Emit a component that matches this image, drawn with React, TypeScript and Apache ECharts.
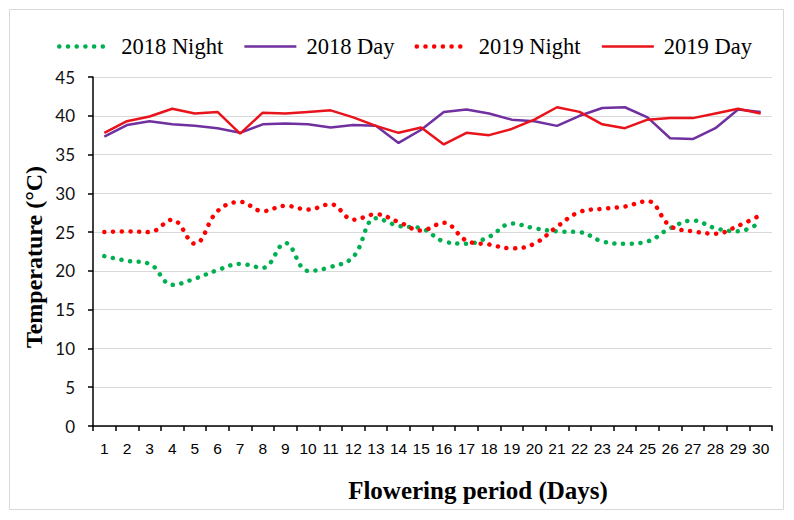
import React, { useEffect, useRef } from "react";
import * as echarts from "echarts";

const days = Array.from({ length: 30 }, (_, i) => String(i + 1));
const yTicks = { min: 0, max: 45, interval: 5 };

const night2018 = [21.9, 21.3, 20.9, 18.2, 19.0, 20.1, 20.9, 20.4, 23.6, 20.0, 20.5, 21.8, 26.8, 25.8, 25.5, 23.8, 23.5, 24.4, 26.1, 25.5, 25.1, 25.0, 23.8, 23.5, 23.8, 25.5, 26.5, 25.5, 25.1, 26.3];
const day2018 = [37.3, 38.8, 39.3, 38.9, 38.7, 38.4, 37.8, 38.9, 39.0, 38.9, 38.5, 38.8, 38.7, 36.5, 38.2, 40.5, 40.8, 40.3, 39.5, 39.3, 38.7, 40.0, 41.0, 41.1, 39.8, 37.1, 37.0, 38.4, 40.8, 40.5];
const night2019 = [25.0, 25.1, 25.0, 26.6, 23.5, 27.7, 28.9, 27.7, 28.4, 27.9, 28.6, 26.6, 27.3, 26.3, 25.2, 26.2, 23.9, 23.4, 22.9, 23.5, 25.7, 27.6, 28.0, 28.3, 29.0, 25.8, 25.1, 24.8, 25.8, 27.2];
const day2019 = [37.8, 39.3, 39.9, 40.9, 40.3, 40.5, 37.7, 40.4, 40.3, 40.5, 40.7, 39.8, 38.7, 37.8, 38.5, 36.3, 37.8, 37.5, 38.3, 39.5, 41.1, 40.5, 38.9, 38.4, 39.5, 39.7, 39.7, 40.3, 40.9, 40.3];

const seriesNames = ["2018 Night", "2018 Day", "2019 Night", "2019 Day"];
const colors = ["#00B050", "#7030A0", "#FF0000", "#E8131B"];

export default function App() {
  const ref = useRef<HTMLDivElement>(null);
  useEffect(() => {
    document.body.style.margin = "0";
    const chart = echarts.init(ref.current!, null, { renderer: "svg" });
    const dotted = (c: string) => ({ color: c, width: 4.5, type: [0.1, 8.6] as any, cap: "round" as const });
    const solid = (c: string) => ({ color: c, width: 2.5 });
    const hidden = { opacity: 0 };
    chart.setOption({
      animation: false,
      backgroundColor: "#fff",
      color: colors,
      legend: {
        left: 57,
        top: 35,
        padding: 0,
        itemWidth: 52,
        itemHeight: 14,
        itemGap: 20,
        itemStyle: hidden,
        textStyle: { fontFamily: "Liberation Serif", fontSize: 22.5, color: "#000", padding: [0, 0, 0, 5] },
        data: [
          { name: seriesNames[0], itemStyle: hidden, lineStyle: { width: 4.5, type: [0.1, 8.6], cap: "round", color: colors[0] } },
          { name: seriesNames[1], itemStyle: hidden, lineStyle: { width: 2.5, color: colors[1] } },
          { name: seriesNames[2], itemStyle: hidden, lineStyle: { width: 4.5, type: [0.1, 8.6], cap: "round", color: colors[2] } },
          { name: seriesNames[3], itemStyle: hidden, lineStyle: { width: 2.5, color: colors[3] } },
        ],
      },
      grid: { left: 93, right: 22, top: 77, bottom: 94, containLabel: false },
      xAxis: {
        type: "category",
        data: days,
        boundaryGap: true,
        axisLine: { lineStyle: { color: "#000", width: 1.5 } },
        axisTick: { show: true, length: 5, lineStyle: { color: "#000", width: 1.5 }, interval: 0 },
        axisLabel: { interval: 0, fontFamily: "Liberation Sans", fontSize: 15.5, color: "#000", margin: 14 },
      },
      yAxis: {
        type: "value",
        min: yTicks.min,
        max: yTicks.max,
        interval: yTicks.interval,
        axisLine: { show: true, lineStyle: { color: "#000", width: 1.5 } },
        axisTick: { show: true, length: 5, lineStyle: { color: "#000", width: 1.5 } },
        axisLabel: { fontFamily: "Lato", fontSize: 17, color: "#111", margin: 18 },
        splitLine: { lineStyle: { color: "#D9D9D9", width: 1.2 } },
      },
      graphic: [
        { type: "rect", shape: { x: 9.5, y: 9.5, width: 774, height: 500 }, style: { fill: "none", stroke: "#D9D9D9", lineWidth: 1 }, silent: true, z: -1 },
        { type: "text", x: 34, y: 257, rotation: Math.PI / 2, style: { text: "Temperature (°C)", fontFamily: "Liberation Serif", fontWeight: "bold", fontSize: 24, fill: "#000", align: "center", verticalAlign: "middle" } },
        { type: "text", x: 478, y: 490, style: { text: "Flowering period (Days)", fontFamily: "Liberation Serif", fontWeight: "bold", fontSize: 25, fill: "#000", align: "center", verticalAlign: "middle" } },
      ],
      series: [
        { name: seriesNames[0], type: "line", data: night2018, smooth: 0.4, symbol: "none", lineStyle: dotted(colors[0]), z: 2 },
        { name: seriesNames[1], type: "line", data: day2018, smooth: false, symbol: "none", lineStyle: solid(colors[1]), z: 2 },
        { name: seriesNames[2], type: "line", data: night2019, smooth: 0.4, symbol: "none", lineStyle: dotted(colors[2]), z: 3 },
        { name: seriesNames[3], type: "line", data: day2019, smooth: false, symbol: "none", lineStyle: solid(colors[3]), z: 3 },
      ],
    });
    return () => chart.dispose();
  }, []);
  return <div ref={ref} style={{ width: 794, height: 520 }} />;
}
